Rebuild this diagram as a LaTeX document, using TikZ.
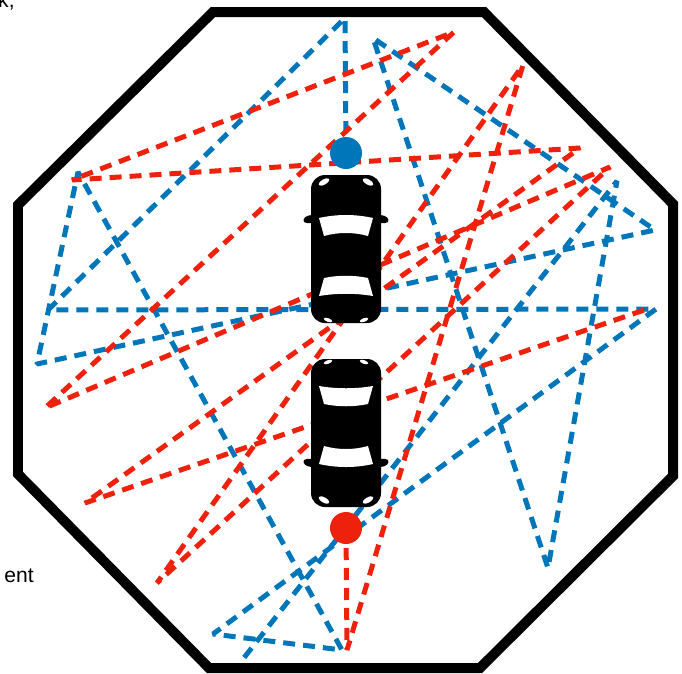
\documentclass[tikz,border=0pt]{standalone}
\usepackage{fontspec}
\setmainfont{Liberation Sans}

\definecolor{rayblue}{HTML}{0076BA}
\definecolor{rayred}{HTML}{EE220C}

\tikzset{
	ray/.style={line width=0.1cm, line join=bevel, dash pattern=on 0.24cm off 0.16cm},
	wall/.style={line width=0.2cm, line join=miter},
	cut/.style={anchor=base east, inner sep=0pt, font=\fontsize{12}{14}\selectfont},
	car/.pic={
		\fill [black, rounded corners=0.28cm] (-35,-74) rectangle (35,74);
		\fill [black] (-34,-34) .. controls (-40,-34) and (-44,-30) .. (-42,-27) .. controls (-40,-25) and (-37,-26) .. (-34,-26) -- cycle;
		\fill [black] (34,-34) .. controls (40,-34) and (44,-30) .. (42,-27) .. controls (40,-25) and (37,-26) .. (34,-26) -- cycle;
		\fill [white] (-27,-31) .. controls (-9,-35) and (9,-35) .. (27,-31) -- (22,-13) .. controls (8,-17) and (-8,-17) .. (-22,-13) -- cycle;
		\fill [white] (-22,29) .. controls (-8,26) and (8,26) .. (22,29) -- (27,47) .. controls (9,44) and (-9,44) .. (-27,47) -- cycle;
		\fill [white, rotate around={30:(-22,-67)}] (-22,-67) ellipse (6 and 2.6);
		\fill [white, rotate around={-30:(22,-67)}] (22,-67) ellipse (6 and 2.6);
		\fill [white, rotate around={-20:(-18,71)}] (-18,71) ellipse (4.5 and 1.8);
		\fill [white, rotate around={20:(18,71)}] (18,71) ellipse (4.5 and 1.8);
	}
}

\begin{document}
\begin{tikzpicture}[x=0.02cm, y=-0.02cm]
	\useasboundingbox (0,0) rectangle (682,673);

	\coordinate (btx) at (346,153);
	\coordinate (b1) at (345,18);
	\coordinate (b2) at (48,310);
	\coordinate (b3) at (656,309);
	\coordinate (b4) at (213,634);
	\coordinate (b5) at (342,650);
	\coordinate (b6) at (78,172);
	\coordinate (b7) at (37,364);
	\coordinate (b8) at (655,230);
	\coordinate (b9) at (373,38);
	\coordinate (b10) at (548,568);
	\coordinate (b11) at (617,181);
	\coordinate (b12) at (243,659);

	\coordinate (rtx) at (346,528);
	\coordinate (r1) at (347,650);
	\coordinate (r2) at (523,65);
	\coordinate (r3) at (157,583);
	\coordinate (r4) at (610,167);
	\coordinate (r5) at (45,408);
	\coordinate (r6) at (454,32);
	\coordinate (r7) at (72,180);
	\coordinate (r8) at (580,148);
	\coordinate (r9) at (85,503);
	\coordinate (r10) at (650,308);

	\draw [ray, rayblue] (btx) -- (b1) -- (b2) -- (b3) -- (b4) -- (b5) -- (b6) -- (b7) -- (b8) -- (b9) -- (b10) -- (b11) -- (b12);
	\draw [ray, rayred] (rtx) -- (r1) -- (r2) -- (r3) -- (r4) -- (r5) -- (r6) -- (r7) -- (r8) -- (r9) -- (r10);

	\pic at (346,249) {car};
	\pic [yscale=-1] at (346,433) {car};

	\fill [rayblue] (btx) circle (16);
	\fill [rayred] (rtx) circle (16);

	\draw [wall] (213,12) -- (484,12) -- (673,204) -- (673,476) -- (480,668) -- (209,668) -- (18,474) -- (18,205) -- cycle;

	\node [cut] (topcut) at (15,7) {k,};
	\node [cut] (leftcut) at (34,582) {ent};

\end{tikzpicture}
\end{document}
